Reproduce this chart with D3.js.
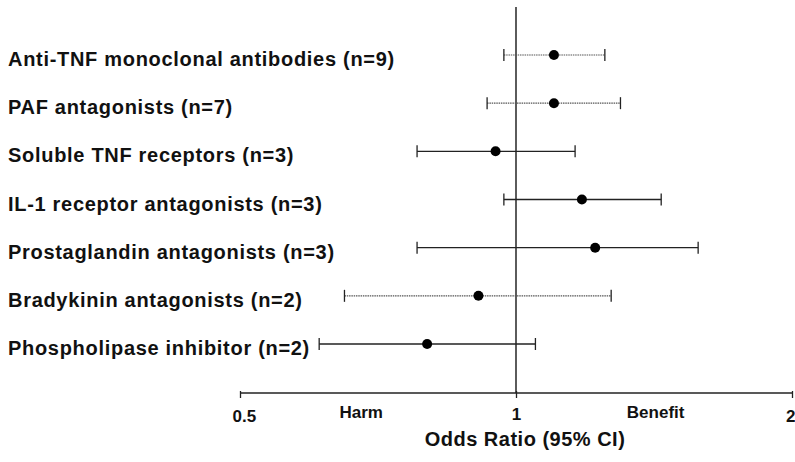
<!DOCTYPE html>
<html>
<head>
<meta charset="utf-8">
<script src="https://cdn.jsdelivr.net/npm/d3@7"></script>
<style>
  body { margin: 0; background: #fff; }
  text { font-family: "Liberation Sans", Arial, sans-serif; font-weight: bold; fill: #111; }
</style>
</head>
<body>
<div id="container"></div>
<script>
// data
var labels = [
  "Anti-TNF monoclonal antibodies (n=9)",
  "PAF antagonists (n=7)",
  "Soluble TNF receptors (n=3)",
  "IL-1 receptor antagonists (n=3)",
  "Prostaglandin antagonists (n=3)",
  "Bradykinin antagonists (n=2)",
  "Phospholipase inhibitor (n=2)"
];
var oddsRatio = [1.10, 1.10, 0.95, 1.18, 1.22, 0.91, 0.80];
var ciLow     = [0.97, 0.93, 0.78, 0.97, 0.78, 0.65, 0.61];
var ciHigh    = [1.25, 1.30, 1.16, 1.44, 1.58, 1.27, 1.05];
var dotted    = [true, true, false, false, false, true, false];
var tickValues = [0.5, 1, 2];
var sideLabels = [{ text: "Harm", v: 0.678 }, { text: "Benefit", v: 1.42 }];

var w = 795, h = 462;

var svg = d3.select("div#container")
  .append("svg")
  .attr("width", w)
  .attr("height", h);

var x = d3.scaleLog().base(2)
  .domain([0.5, 2])
  .range([240, 792]);

var y = d3.scalePoint()
  .domain(labels)
  .range([55, 344]);

var axisY = 393;

// reference line at OR = 1
svg.append("line")
  .attr("x1", x(1)).attr("x2", x(1))
  .attr("y1", 7).attr("y2", axisY)
  .attr("stroke", "#333")
  .attr("stroke-width", 1.6);

// x axis
var axis = svg.append("g")
  .attr("transform", "translate(0," + axisY + ")")
  .call(d3.axisBottom(x).tickValues(tickValues).tickSize(5).tickPadding(10)
    .tickFormat(function(d) { return d; }));
axis.select(".domain").attr("stroke", "#222").attr("stroke-width", 1.3)
  .attr("d", "M" + x(0.5) + ",0H" + x(2));
axis.selectAll(".tick line").attr("stroke", "#222").attr("stroke-width", 1.3).attr("y1", -2);
axis.selectAll(".tick text")
  .style("font-family", "Liberation Sans, Arial, sans-serif")
  .style("font-weight", "bold")
  .style("font-size", "17px")
  .attr("fill", "#111")
  .attr("text-anchor", function(d) { return d === 0.5 ? "start" : d === 2 ? "end" : "middle"; })
  .attr("dx", function(d) { return d === 0.5 ? -8 : d === 2 ? 3 : 0; })
  .attr("dy", function(d) { return d === 1 ? "0.71em" : "0.85em"; });

svg.selectAll(".side")
  .data(sideLabels)
  .enter().append("text")
  .attr("class", "side")
  .attr("x", function(d) { return x(d.v); })
  .attr("y", 418)
  .attr("text-anchor", "middle")
  .style("font-size", "17px")
  .text(function(d) { return d.text; });

svg.append("text")
  .attr("x", 525)
  .attr("y", 446)
  .attr("text-anchor", "middle")
  .style("font-size", "20px")
  .style("letter-spacing", "0.5px")
  .text("Odds Ratio (95% CI)");

// rows
var rows = svg.selectAll(".row")
  .data(labels)
  .enter().append("g")
  .attr("class", "row")
  .attr("transform", function(d) { return "translate(0," + y(d) + ")"; });

rows.append("text")
  .attr("x", 8)
  .attr("y", 11)
  .style("font-size", "20px")
  .style("letter-spacing", "0.7px")
  .text(function(d) { return d; });

rows.append("line")
  .attr("x1", function(d, i) { return x(ciLow[i]); })
  .attr("x2", function(d, i) { return x(ciHigh[i]); })
  .attr("stroke", function(d, i) { return dotted[i] ? "#555" : "#222"; })
  .attr("stroke-width", function(d, i) { return dotted[i] ? 1.2 : 1.3; })
  .attr("stroke-dasharray", function(d, i) { return dotted[i] ? "1.5,0.8" : null; });

rows.selectAll(".cap")
  .data(function(d, i) { return [ciLow[i], ciHigh[i]]; })
  .enter().append("line")
  .attr("class", "cap")
  .attr("x1", function(v) { return x(v); })
  .attr("x2", function(v) { return x(v); })
  .attr("y1", -6).attr("y2", 6)
  .attr("stroke", "#222")
  .attr("stroke-width", 1.3);

rows.append("circle")
  .attr("cx", function(d, i) { return x(oddsRatio[i]); })
  .attr("r", 5)
  .attr("fill", "#000");
</script>
</body>
</html>
